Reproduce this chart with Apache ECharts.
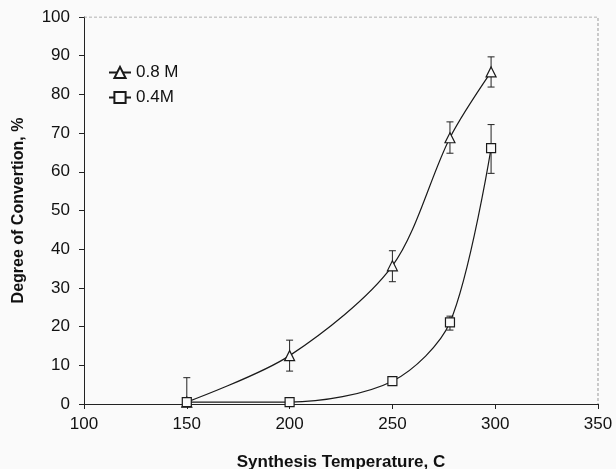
<!DOCTYPE html>
<html>
<head>
<meta charset="utf-8">
<script src="https://cdn.jsdelivr.net/npm/echarts@6/dist/echarts.min.js"></script>
<style>
  html, body { margin: 0; padding: 0; background: #fafafa; }
  #chart { width: 616px; height: 469px; }
</style>
</head>
<body>
<div id="chart"></div>
<script>
'use strict';

// Data
const tempHigh = [150, 200, 250, 278, 298];
const convHigh = [0.5, 12.5, 35.7, 68.8, 85.8];
const errLowHigh = [0.5, 8.5, 31.6, 64.8, 81.9];
const errUpHigh = [6.8, 16.5, 39.6, 72.9, 89.7];

const tempLow = [150, 200, 250, 278, 298];
const convLow = [0.5, 0.5, 5.9, 21.1, 66.1];
const errLowLow = [0.5, 0.5, 5.9, 19.1, 59.6];
const errUpLow = [0.5, 0.5, 5.9, 22.7, 72.2];

const xTicks = [100, 150, 200, 250, 300, 350];
const yTicks = [0, 10, 20, 30, 40, 50, 60, 70, 80, 90, 100];

const font = 'Liberation Sans, Arial, sans-serif';

const pairs = (xs, ys) => xs.map((x, i) => [x, ys[i]]);

// error bar rows: [x, low, high]
const errRows = (xs, lo, hi) =>
  xs.map((x, i) => [x, lo[i], hi[i]]).filter((r) => r[2] - r[1] > 0.3);

const renderError = (params, api) => {
  const x = api.value(0);
  const lo = api.coord([x, api.value(1)]);
  const hi = api.coord([x, api.value(2)]);
  const cap = 3.5;
  const style = { stroke: '#222', lineWidth: 1 };
  return {
    type: 'group',
    children: [
      { type: 'line', shape: { x1: lo[0], y1: lo[1], x2: hi[0], y2: hi[1] }, style },
      { type: 'line', shape: { x1: hi[0] - cap, y1: hi[1], x2: hi[0] + cap, y2: hi[1] }, style },
      { type: 'line', shape: { x1: lo[0] - cap, y1: lo[1], x2: lo[0] + cap, y2: lo[1] }, style },
    ],
  };
};

const chart = echarts.init(document.getElementById('chart'));

const lineSeries = (name, data, symbol, size) => ({
  name,
  type: 'line',
  data,
  smooth: 0.3,
  symbol,
  symbolSize: size,
  showAllSymbol: true,
  lineStyle: { color: '#1a1a1a', width: 1.2 },
  itemStyle: { color: '#fafafa', borderColor: '#1a1a1a', borderWidth: 1.2 },
  z: 3,
});

chart.setOption({
  backgroundColor: '#fafafa',
  animation: false,
  grid: { left: 84, right: 18, top: 17, bottom: 65, outerBoundsMode: 'none', containLabel: false },
  legend: {
    left: 103,
    top: 59,
    orient: 'vertical',
    itemGap: 8,
    itemWidth: 22,
    itemHeight: 14,
    textStyle: { fontFamily: font, fontSize: 17, color: '#111' },
    data: ['0.8 M', '0.4M'],
  },
  xAxis: {
    type: 'value',
    min: xTicks[0],
    max: xTicks[xTicks.length - 1],
    interval: 50,
    name: 'Synthesis Temperature, C',
    nameLocation: 'middle',
    nameGap: 50,
    nameTextStyle: { fontFamily: font, fontSize: 17, fontWeight: 'bold', color: '#111' },
    axisLine: { lineStyle: { color: '#222', width: 1 } },
    axisTick: { length: 5, lineStyle: { color: '#222' } },
    axisLabel: { fontFamily: font, fontSize: 17, color: '#111', margin: 12 },
    splitLine: { show: false },
  },
  yAxis: {
    type: 'value',
    min: yTicks[0],
    max: yTicks[yTicks.length - 1],
    interval: 10,
    name: 'Degree of Convertion, %',
    nameLocation: 'middle',
    nameGap: 57,
    nameTextStyle: { fontFamily: font, fontSize: 16, fontWeight: 'bold', color: '#111' },
    axisLine: { show: true, lineStyle: { color: '#222', width: 1 } },
    axisTick: { show: true, length: 5, lineStyle: { color: '#222' } },
    axisLabel: { fontFamily: font, fontSize: 17, color: '#111', margin: 14 },
    splitLine: { show: false },
  },
  series: [
    // dotted frame on top and right
    {
      type: 'line',
      data: [[100, 100], [350, 100], [350, 0]],
      symbol: 'none',
      lineStyle: { color: '#999', width: 1, type: [3, 2] },
      silent: true,
      z: 1,
    },
    {
      type: 'custom',
      renderItem: renderError,
      data: errRows(tempHigh, errLowHigh, errUpHigh),
      encode: { x: 0, y: [1, 2] },
      z: 2,
    },
    {
      type: 'custom',
      renderItem: renderError,
      data: errRows(tempLow, errLowLow, errUpLow),
      encode: { x: 0, y: [1, 2] },
      z: 2,
    },
    lineSeries('0.8 M', pairs(tempHigh, convHigh), 'triangle', 10),
    lineSeries('0.4M', pairs(tempLow, convLow), 'rect', 9),
  ],
});
</script>
</body>
</html>
